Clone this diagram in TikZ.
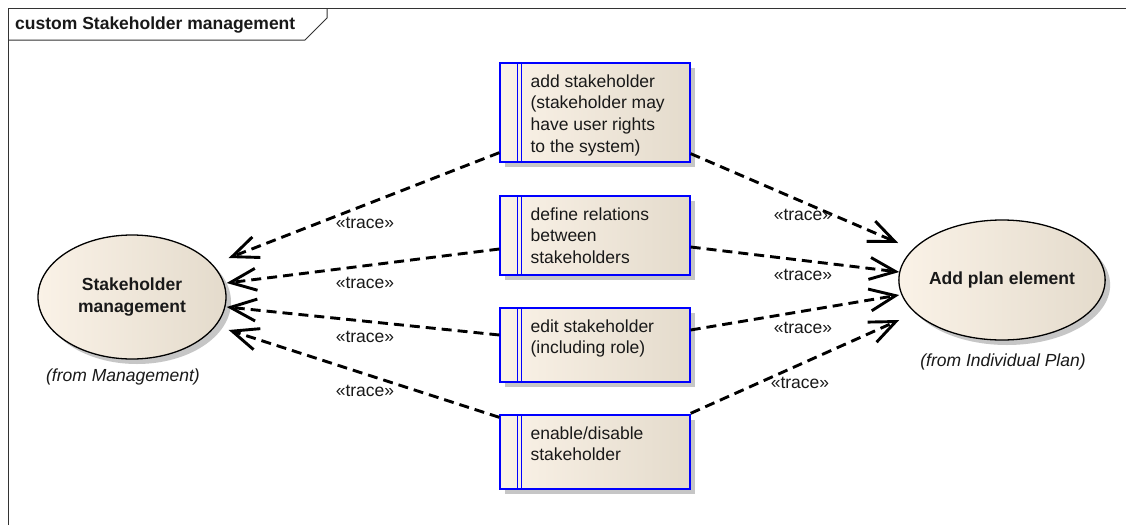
\documentclass[tikz,border=0pt]{standalone}
\usepackage{fontspec}
\setmainfont{Liberation Sans}
\usetikzlibrary{arrows.meta,calc,shapes.geometric,shadows}
\definecolor{cream}{RGB}{250,242,231}
\definecolor{beige}{RGB}{228,219,204}
\definecolor{shadowgray}{RGB}{198,198,198}
\definecolor{eablue}{RGB}{0,0,255}
\definecolor{inktext}{RGB}{25,25,25}

\begin{document}
\begin{tikzpicture}[x=1pt,y=-1pt,
  txt/.style={font=\fontsize{17.5}{21.7}\selectfont, inner sep=0pt, text=inktext},
  boxtext/.style={txt, align=left, anchor=north west},
  ucbox/.style={rectangle, draw=eablue, line width=1.3pt, left color=cream,
    right color=beige, minimum width=190pt, inner sep=0pt,
    drop shadow={shadow xshift=5pt, shadow yshift=-5pt, fill=shadowgray, opacity=1}},
  usecase/.style={ellipse, draw=black, line width=1.3pt, left color=cream,
    right color=beige, inner sep=0pt, align=center, text=inktext,
    font=\fontsize{17.5}{21.7}\selectfont\bfseries,
    drop shadow={shadow xshift=5pt, shadow yshift=-5pt, fill=shadowgray, opacity=1}},
  trace/.style={draw=black, line width=2.9pt, dash pattern=on 10pt off 6pt,
    -{Straight Barb[length=26pt,width=22pt]}},
  framepen/.style={draw=black!80, line width=1pt}
]
\useasboundingbox (0,0) rectangle (1126,525);
\fill[white] (0,0) rectangle (1126,525);

% diagram frame and its name tab
\draw[framepen] (8,525) -- (8,8) -- (1126,8);
\draw[framepen] (8,40) -- (305,40) -- (327,18) -- (327,8);
\node[txt, font=\fontsize{17.5}{21.7}\selectfont\bfseries, anchor=west] (title) at (15,25)
  {custom Stakeholder management};

% requirement boxes
\node[ucbox, minimum height=99pt] (b1) at (595,112.5) {};
\node[ucbox, minimum height=79pt] (b2) at (595,235.5) {};
\node[ucbox, minimum height=74pt] (b3) at (595,345) {};
\node[ucbox, minimum height=74pt] (b4) at (595,452) {};
\foreach \b in {b1,b2,b3,b4} {
  \draw[eablue, line width=1.1pt] ($(\b.north west)+(18,0)$) -- ($(\b.south west)+(18,0)$);
  \draw[eablue, line width=1.1pt] ($(\b.north west)+(22,0)$) -- ($(\b.south west)+(22,0)$);
}
\node[boxtext] (t1) at ($(b1.north west)+(31,12)$)
  {add stakeholder\\(stakeholder may\\have user rights\\to the system)};
\node[boxtext] (t2) at ($(b2.north west)+(31,12)$)
  {define relations\\between\\stakeholders};
\node[boxtext] (t3) at ($(b3.north west)+(31,12)$)
  {edit stakeholder\\(including role)};
\node[boxtext] (t4) at ($(b4.north west)+(31,12)$)
  {enable/disable\\stakeholder};

% use cases
\node[usecase, minimum width=188pt, minimum height=124pt] (sm) at (132,297)
  {Stakeholder\\management};
\node[usecase, minimum width=180pt, minimum height=120pt] (ape) at (1002,280)
  {Add plan element};
\node[txt, font=\fontsize{17.5}{21.7}\selectfont\itshape] (smfrom) at (123,377) {(from Management)};
\node[txt, font=\fontsize{17.5}{21.7}\selectfont\itshape] (apefrom) at (1003,362) {(from Individual Plan)};

% connector end points
\coordinate (sm1) at ($(sm.east)+(2,-39)$);
\coordinate (sm2) at ($(sm.east)+(0,-14)$);
\coordinate (sm3) at ($(sm.east)+(0,10)$);
\coordinate (sm4) at ($(sm.east)+(2,33)$);
\coordinate (ape1) at ($(ape.west)+(0,-37)$);
\coordinate (ape2) at ($(ape.west)+(1,-8)$);
\coordinate (ape3) at ($(ape.west)+(1,15)$);
\coordinate (ape4) at ($(ape.west)+(1,40)$);

% trace dependencies
\draw[trace] ($(b1.south west)+(0,-10)$) -- (sm1);
\draw[trace] ($(b2.west)+(0,13.5)$) -- (sm2);
\draw[trace] ($(b3.west)+(0,-10)$) -- (sm3);
\draw[trace] ($(b4.north west)+(0,3)$) -- (sm4);
\draw[trace] ($(b1.south east)+(0,-9)$) -- (ape1);
\draw[trace] ($(b2.east)+(0,11.5)$) -- (ape2);
\draw[trace] ($(b3.east)+(0,-15)$) -- (ape3);
\draw[trace] ($(b4.north east)+(0,-1)$) -- (ape4);

% stereotype labels
\node[txt] (lt1) at (365,223) {«trace»};
\node[txt] (lt2) at (365,283) {«trace»};
\node[txt] (lt3) at (365,337) {«trace»};
\node[txt] (lt4) at (365,391) {«trace»};
\node[txt] (rt1) at (803,215) {«trace»};
\node[txt] (rt2) at (803,275) {«trace»};
\node[txt] (rt3) at (803,328) {«trace»};
\node[txt] (rt4) at (800,383) {«trace»};
\end{tikzpicture}
\end{document}
